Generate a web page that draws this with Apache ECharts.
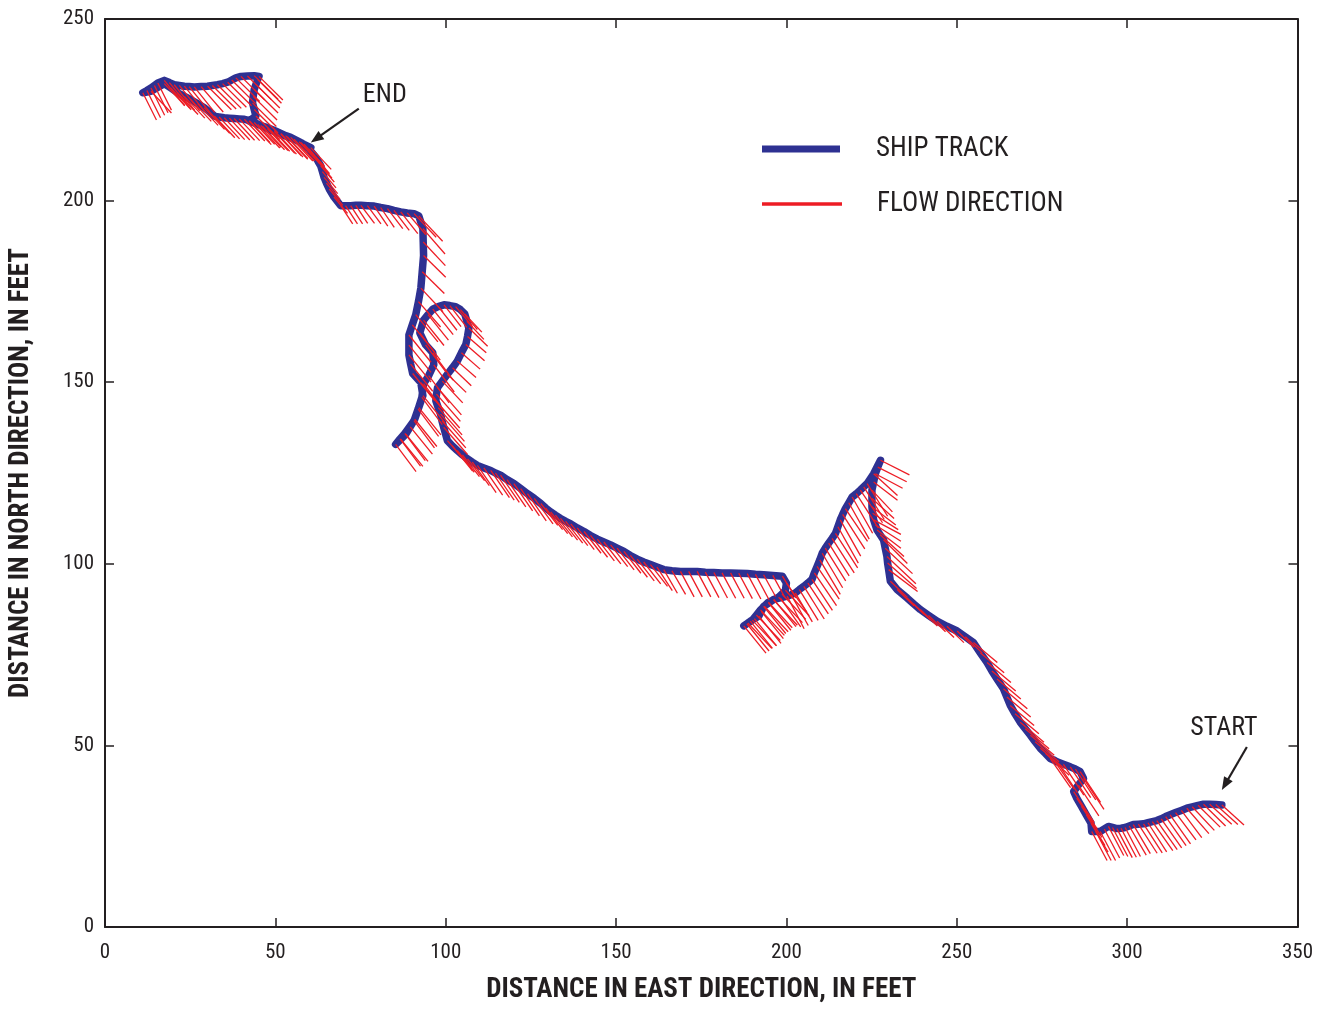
<!DOCTYPE html>
<html>
<head>
<meta charset="utf-8">
<script src="https://cdn.jsdelivr.net/npm/echarts@6/dist/echarts.min.js"></script>
<style>
html,body{margin:0;padding:0;background:#fff;overflow:hidden;}
#chart{position:absolute;left:0;top:0;width:100vw;height:100vh;}
</style>
</head>
<body>
<div id="chart"></div>
<script>
// Ship track, east/north distance in feet, in time order (START -> END)
const trackX = [
327.8,326.0,324.2,322.4,320.8,319.1,317.5,315.9,314.2,312.6,
311.3,310.0,308.7,307.4,306.1,304.8,303.3,301.8,300.6,299.4,
298.2,297.0,295.7,294.5,293.3,292.1,290.8,289.6,289.4,288.0,
286.6,285.2,284.3,285.7,287.2,286.2,284.8,283.3,281.3,279.4,
278.4,277.4,276.0,274.5,273.0,271.6,270.1,268.6,267.1,265.7,
264.7,263.7,261.8,260.3,258.9,256.9,254.9,252.5,250.1,247.1,
244.2,241.7,239.3,237.3,235.4,232.5,230.5,230.0,229.7,229.5,
229.0,228.5,227.5,226.6,226.1,225.6,225.3,225.1,225.1,225.1,
225.6,226.1,226.8,227.6,225.6,223.7,222.7,221.7,220.5,219.3,
218.3,217.3,216.5,215.8,215.1,214.4,213.4,212.4,211.4,210.5,
209.8,209.0,208.2,207.5,206.3,205.1,203.8,202.6,201.4,200.2,
198.2,196.3,194.8,193.3,192.6,191.9,190.6,189.4,188.4,187.5,
188.7,190.0,191.2,192.4,193.5,194.7,196.2,197.7,198.7,199.7,
200.0,198.8,196.0,193.3,190.9,188.5,186.0,183.6,181.1,178.7,
176.2,173.8,171.3,168.9,166.4,164.0,162.0,160.1,158.1,156.2,
154.2,152.3,150.3,148.4,146.4,144.5,142.5,140.6,138.6,136.7,
135.2,133.7,132.2,130.8,129.3,127.9,126.0,124.0,122.0,120.0,
118.0,116.1,114.6,113.2,111.2,109.3,107.8,106.4,104.9,103.4,
101.9,100.5,99.4,98.9,98.5,97.8,97.1,97.3,97.6,99.0,
100.5,102.0,103.4,104.6,105.9,106.4,106.8,106.2,105.6,104.3,
102.9,101.2,99.5,97.8,96.2,94.8,93.5,92.4,94.1,96.2,
96.5,95.0,93.5,93.0,91.9,90.7,88.0,86.6,85.3,86.8,
88.3,89.6,90.9,92.1,93.3,92.7,90.3,89.7,89.2,89.2,
89.2,90.2,91.2,92.0,92.7,93.1,93.5,93.4,93.3,92.1,
90.7,88.7,86.8,84.8,82.9,80.9,79.0,77.0,75.1,73.6,
72.1,70.6,69.2,67.2,65.8,65.0,64.3,63.8,63.3,62.6,
61.9,59.9,57.5,54.5,53.0,51.6,49.7,47.7,46.2,44.8,
42.3,44.3,43.8,43.3,43.5,43.8,44.3,44.8,45.2,43.8,
41.8,39.9,38.4,37.2,36.0,34.5,33.0,31.5,30.1,28.2,
26.2,24.7,23.3,21.8,20.3,18.9,17.4,15.5,14.5,13.5,
12.3,11.1,13.5,17.4,19.3,21.3,23.3,25.2,27.2,29.1,
30.6,32.1,33.5,35.0,36.5,37.9,39.4,40.9,42.4,43.8,
45.7,47.7,49.7,51.6,53.5,55.5,57.0,58.4,60.4];
const trackY = [
33.6,33.7,33.8,33.8,33.5,33.1,32.7,32.1,31.5,30.9,
30.4,29.8,29.3,29.0,28.7,28.4,28.3,28.2,27.8,27.4,
27.2,27.1,27.4,27.7,27.0,26.3,26.3,26.3,28.6,30.9,
33.2,35.5,37.3,39.1,40.9,42.8,43.5,44.1,44.8,45.5,
46.0,46.4,47.8,49.2,51.0,52.8,54.6,56.4,58.7,61.0,
63.3,65.6,68.3,70.5,72.8,75.5,78.3,79.9,81.5,82.8,
84.2,85.8,87.4,89.0,90.6,92.9,95.2,98.4,100.2,102.0,
104.3,106.6,108.0,109.3,110.7,112.1,113.9,115.7,118.0,120.3,
122.5,124.8,126.6,128.5,124.8,122.1,121.2,120.3,119.3,118.4,
116.8,115.2,113.6,112.1,110.2,108.4,107.0,105.7,104.3,102.9,
101.1,99.3,97.5,95.7,94.7,93.8,92.9,92.0,91.5,91.1,
90.6,90.2,89.2,88.3,86.9,85.6,84.9,84.2,83.5,82.9,
83.7,84.5,85.9,87.3,88.3,89.4,90.1,90.8,91.7,92.7,
94.7,96.6,96.8,97.0,97.1,97.3,97.4,97.5,97.5,97.6,
97.7,97.9,97.9,97.9,98.1,98.4,99.1,99.8,100.5,101.3,
102.3,103.4,104.3,105.2,106.0,106.8,107.8,108.9,109.9,111.0,
111.7,112.5,113.4,114.3,115.4,116.6,118.0,119.3,120.7,122.1,
123.2,124.4,125.0,125.7,126.4,127.1,128.0,128.9,130.0,131.2,
132.5,133.9,137.6,139.4,141.2,143.0,144.9,146.7,148.5,150.3,
152.2,154.0,155.8,158.1,160.4,162.6,164.9,166.8,168.8,170.0,
170.8,171.1,171.3,170.8,170.1,168.6,167.1,163.6,160.3,158.1,
154.8,151.8,149.6,145.8,142.6,139.4,135.9,134.4,132.9,134.3,
135.7,137.7,139.8,143.0,146.3,149.9,152.4,155.0,157.5,160.2,
163.0,165.8,168.6,172.2,175.9,180.4,184.9,188.6,192.3,195.8,
196.4,196.6,196.9,197.3,197.8,198.1,198.5,198.6,198.7,198.7,
198.6,198.6,198.6,201.0,203.2,204.8,206.4,208.0,209.6,210.7,
211.9,214.2,216.0,217.4,217.9,218.5,219.3,220.1,220.5,221.0,
221.9,223.3,225.1,226.9,228.7,230.6,232.0,233.3,234.2,234.4,
234.3,234.2,233.8,233.2,232.6,232.2,231.9,231.7,231.5,231.4,
231.3,231.4,231.5,231.7,231.9,232.5,233.1,232.4,231.7,231.0,
230.3,229.7,230.1,232.2,231.0,229.7,228.7,227.8,226.7,225.6,
224.5,223.3,223.0,222.8,222.7,222.6,222.5,222.4,222.0,221.5,
220.7,219.8,219.0,218.3,217.6,216.9,216.2,215.5,214.6];
// Flow direction at each track point: east and north components, drawn in feet
const flowU = [
6.5,6.5,6.5,6.5,6.5,6.5,6.5,6,6,6,
6,6,6,6,5.5,5.5,5.5,5,5,4.5,
4.5,4.5,4.5,4.5,4.5,4.5,4.5,4.5,5,5.5,
6,6,6,6,6,6,6,6,6,6,
6,6,7,7,7,7,7,7,7,7,
7,7,7,7,7,7,7,5,5,5,
5,5,5,5,5,5,5,8.5,8.5,8.5,
8,7,7,7,7.5,8,7.5,7,6.5,6,
7,8,8.5,8.5,7,6,6,6.5,6.5,6,
6,6.5,6.5,6,6,6.5,6.5,6,6,6,
6,6.5,6.5,6,6,6,5.5,5,5,5,
6,6.5,6.5,6.5,6.5,6.5,6.5,6.5,6.5,6.5,
7,7,7,7,7,7,7,7,7,7,
6,4,3.5,3.5,4,4,4,4,4,4,
4,4,4,4,4,4,4.5,5,5,5,
5,5,5,5,5,5,5,5,5,5,
5,5,5,5,5,5,5.5,5.5,5.5,5.5,
5.5,5.5,5.5,5.5,5.5,5.5,5,5,5,5,
6,7,7,7,7,7,7,7,7,6,
5.5,5.5,5.5,5.5,5.5,5.5,5.5,5,5,5,
5,5,5,5.5,6,6,6,6,6,6,
6,6,6,6,6,6,6,6,6,6.5,
6.5,6.5,6.5,6.5,6.5,6.5,6.5,6.5,6.5,6.5,
6.5,6.5,6.5,6.5,6.5,6.5,6.5,6.5,6.5,7,
6.5,5.5,5,4.5,4.5,4,4,4,4,3.5,
3.5,3.5,3.5,4,4,4,4,4,4,4,
4,4,6.5,6.5,6.5,6.5,6.5,6.5,6.5,6.5,
6.5,7,7,7,7,7,7,7,7,7,
7,7,7,7,7,7,7,7,7,6.5,
6,6,6,6,6,6,6,4,4,4,
4,4,6,6,6,6,6,6,6,6,
6,6,6,6,6,6,6,6,6,6,
6,6,6,6,6,6,6,6,6];
const flowV = [
-5.5,-5.5,-5.5,-6,-6,-6.5,-7,-7.5,-7.5,-8,
-8,-8,-8,-8,-8,-8,-8,-8,-8,-8,
-8,-8,-8,-8,-8,-8,-8,-8,-8,-8.5,
-8.5,-8.5,-8.5,-8.5,-8.5,-8.5,-8.5,-8.5,-8.5,-8.5,
-8,-8,-6,-5.5,-5.5,-5.5,-5.5,-5.5,-5.5,-5.5,
-5.5,-5.5,-5.5,-5.5,-5.5,-5.5,-5.5,-4.5,-4.5,-4.5,
-4.5,-4.5,-4.5,-4.5,-4.5,-4.5,-4.5,-6,-7,-7.5,
-7,-6.5,-6,-5,-4.5,-4,-4.5,-5,-5.5,-6,
-5,-4,-4,-4,-6,-9,-9,-9,-9.5,-10,
-10,-9,-9.5,-10,-10,-9.5,-9.5,-9,-9,-9.5,
-9.5,-9,-9,-8.5,-8.5,-9,-8.5,-8,-8.5,-9,
-8,-7.5,-7.5,-7.5,-7.5,-7.5,-7.5,-7.5,-7.5,-7.5,
-7,-7,-7,-7,-7,-7,-7,-7,-7,-7,
-8,-6,-6,-6,-7,-7,-7,-7,-7,-7,
-7,-7,-7,-7,-6.5,-6.5,-6.5,-6,-6,-6,
-6,-6,-6,-6,-6,-6,-6,-6,-6,-6,
-6,-6,-6,-6,-6,-6,-7,-7.5,-7.5,-7.5,
-7.5,-7.5,-7.5,-7.5,-7.5,-7.5,-6.5,-6,-6,-6,
-7,-7.5,-7.5,-7.5,-7.5,-7.5,-7.5,-7.5,-7.5,-6,
-5,-5,-4.5,-4.5,-4.5,-4.5,-5,-5,-5,-5.5,
-5.5,-6,-6,-6.5,-7,-7,-7,-7.5,-7.5,-7.5,
-7.5,-7.5,-7.5,-7.5,-7.5,-7.5,-7.5,-7.5,-7.5,-7.5,
-7.5,-7.5,-7.5,-7.5,-7.5,-7.5,-7.5,-7.5,-7.5,-7.5,
-7.5,-7.5,-7.5,-7,-6.5,-6,-6,-6.5,-7,-7,
-6.5,-6,-6,-5.5,-5.5,-5.5,-5.5,-5,-5,-5,
-5,-5,-5,-4.5,-4.5,-4.5,-4.5,-4.5,-4.5,-4.5,
-4.5,-4.5,-6.5,-6.5,-6.5,-6.5,-6.5,-6.5,-6.5,-6.5,
-6.5,-6.5,-6.5,-6.5,-6.5,-6.5,-6.5,-6.5,-6.5,-6.5,
-6.5,-6.5,-6.5,-6.5,-6.5,-6.5,-6.5,-6.5,-6.5,-7,
-7,-7,-7,-7,-7,-7,-7,-7.5,-7.5,-7.5,
-7.5,-7.5,-6,-6,-6,-6,-6,-6,-6,-6,
-6,-6,-6,-6,-6,-6,-6,-6,-6,-6,
-6,-6,-6,-6,-6,-6,-6,-6,-6];
const xTicks = [0, 50, 100, 150, 200, 250, 300, 350];
const yTicks = [0, 50, 100, 150, 200, 250];
const seriesNames = ['SHIP TRACK', 'FLOW DIRECTION'];
const annotations = ['START', 'END'];
const xTitle = 'DISTANCE IN EAST DIRECTION, IN FEET';
const yTitle = 'DISTANCE IN NORTH DIRECTION, IN FEET';

const FONT = "'Liberation Sans Narrow','Roboto Condensed','DejaVu Sans Condensed','Liberation Sans',sans-serif";
const INK = '#231f20';
const BLUE = '#2e3192';
const RED = '#ed1c24';

const chart = echarts.init(document.getElementById('chart'), null, {renderer: 'canvas'});

const n = Math.min(trackX.length, trackY.length, flowU.length, flowV.length);
const trackData = trackX.map((x, i) => [x, trackY[i]]);
const flowData = [];
for (let i = 0; i < n; i++) {
  flowData.push({coords: [[trackX[i], trackY[i]], [trackX[i] + flowU[i], trackY[i] + flowV[i]]]});
}
const last = trackX.length - 1;
const annotData = [
  {value: [trackX[0], trackY[0]], name: annotations[0]},
  {value: [trackX[last], trackY[last]], name: annotations[1]}
];
// pixel offsets (arrow tip, arrow tail, label centre) relative to the track point
const annotOffsets = [
  {tip: [0, -15], tail: [25, -58], text: [2, -76]},
  {tip: [0, -5], tail: [48, -39], text: [74, -52]}
];

const axisLineStyle = {color: INK, width: 2};
const tickStyle = {color: INK, width: 1.5};

const option = {
  animation: false,
  backgroundColor: '#ffffff',
  grid: {left: 104, right: 22.5, top: 19, bottom: 76, containLabel: false},
  xAxis: [
    {type: 'value', min: xTicks[0], max: xTicks[xTicks.length - 1], interval: 50, position: 'bottom',
     axisLine: {show: true, onZero: false, lineStyle: axisLineStyle},
     axisTick: {show: true, inside: true, length: 9, lineStyle: tickStyle},
     axisLabel: {show: true, color: INK, fontFamily: FONT, fontSize: 21, margin: 15},
     splitLine: {show: false},
     name: xTitle, nameLocation: 'middle', nameGap: 50,
     nameTextStyle: {color: INK, fontFamily: FONT, fontSize: 27, fontWeight: 'bold'}},
    {type: 'value', min: xTicks[0], max: xTicks[xTicks.length - 1], interval: 50, position: 'top',
     axisLine: {show: true, onZero: false, lineStyle: axisLineStyle},
     axisTick: {show: true, inside: true, length: 9, lineStyle: tickStyle},
     axisLabel: {show: false}, splitLine: {show: false}}
  ],
  yAxis: [
    {type: 'value', min: yTicks[0], max: yTicks[yTicks.length - 1], interval: 50, position: 'left',
     axisLine: {show: true, onZero: false, lineStyle: axisLineStyle},
     axisTick: {show: true, inside: true, length: 9, lineStyle: tickStyle},
     axisLabel: {show: true, color: INK, fontFamily: FONT, fontSize: 21, margin: 11},
     splitLine: {show: false},
     name: yTitle, nameLocation: 'middle', nameGap: 70,
     nameTextStyle: {color: INK, fontFamily: FONT, fontSize: 27, fontWeight: 'bold'}},
    {type: 'value', min: yTicks[0], max: yTicks[yTicks.length - 1], interval: 50, position: 'right',
     axisLine: {show: true, onZero: false, lineStyle: axisLineStyle},
     axisTick: {show: true, inside: true, length: 9, lineStyle: tickStyle},
     axisLabel: {show: false}, splitLine: {show: false}}
  ],
  legend: [
    {data: [{name: seriesNames[0], icon: 'rect'}], left: 762, top: 134, padding: 0,
     itemWidth: 78, itemHeight: 7, selectedMode: false,
     textStyle: {color: INK, fontFamily: FONT, fontSize: 27, lineHeight: 30, padding: [0, 0, 0, 31]}},
    {data: [{name: seriesNames[1], icon: 'rect'}], left: 762, top: 189, padding: 0,
     itemWidth: 78, itemHeight: 1.5, selectedMode: false,
     textStyle: {color: INK, fontFamily: FONT, fontSize: 27, lineHeight: 30, padding: [0, 0, 0, 31]}}
  ],
  series: [
    {type: 'line', name: seriesNames[0], data: trackData, xAxisIndex: 0, yAxisIndex: 0,
     showSymbol: false, symbol: 'none', smooth: false,
     lineStyle: {color: BLUE, width: 7.5, cap: 'round', join: 'round'},
     itemStyle: {color: BLUE}, z: 2},
    {type: 'lines', name: seriesNames[1], coordinateSystem: 'cartesian2d', xAxisIndex: 0, yAxisIndex: 0,
     data: flowData, polyline: false,
     lineStyle: {color: RED, width: 1.3, opacity: 1},
     itemStyle: {color: RED}, z: 3},
    {type: 'custom', name: 'annotations', coordinateSystem: 'cartesian2d', xAxisIndex: 0, yAxisIndex: 0,
     data: annotData, z: 4, silent: true,
     renderItem: function (params, api) {
       const p = api.coord([api.value(0), api.value(1)]);
       const o = annotOffsets[params.dataIndex];
       const tip = [p[0] + o.tip[0], p[1] + o.tip[1]];
       const tail = [p[0] + o.tail[0], p[1] + o.tail[1]];
       const dx = tip[0] - tail[0], dy = tip[1] - tail[1];
       const L = Math.sqrt(dx * dx + dy * dy);
       const ux = dx / L, uy = dy / L;
       const nx = -uy, ny = ux;
       const hl = 13, hw = 5;
       const base = [tip[0] - ux * hl, tip[1] - uy * hl];
       return {
         type: 'group',
         children: [
           {type: 'line', shape: {x1: tail[0], y1: tail[1], x2: base[0] + ux * 2, y2: base[1] + uy * 2},
            style: {stroke: INK, lineWidth: 2.2}},
           {type: 'polygon', shape: {points: [tip, [base[0] + nx * hw, base[1] + ny * hw], [base[0] - nx * hw, base[1] - ny * hw]]},
            style: {fill: INK}},
           {type: 'text', x: p[0] + o.text[0], y: p[1] + o.text[1],
            style: {text: annotData[params.dataIndex].name, fill: INK, font: '26px ' + FONT,
                    align: 'center', verticalAlign: 'middle'}}
         ]
       };
     }}
  ]
};
chart.setOption(option);
window.addEventListener('resize', () => chart.resize());
</script>
</body>
</html>
